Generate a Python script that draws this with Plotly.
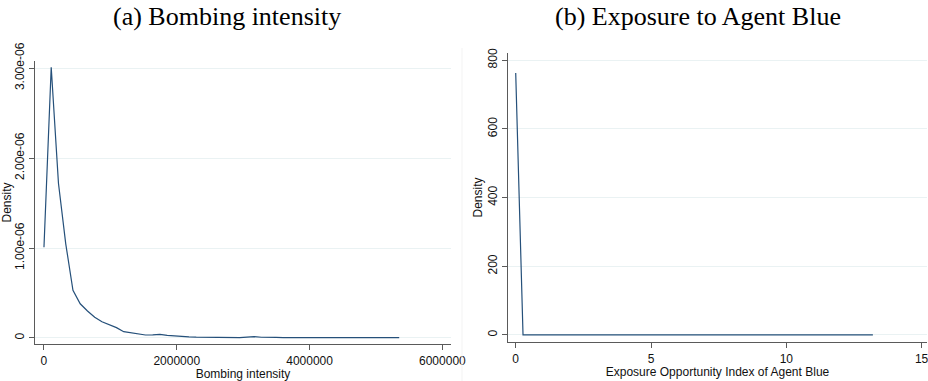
import plotly.graph_objects as go

# ---------------- data ----------------
bomb_x = [0, 109184, 218367, 327551, 436735, 545918, 655102, 764286, 873469, 982653,
          1091837, 1201020, 1310204, 1419388, 1528571, 1637755, 1746939, 1856122, 1965306, 2074490,
          2183673, 2292857, 2402041, 2511224, 2620408, 2729592, 2838776, 2947959, 3057143, 3166327,
          3275510, 3384694, 3493878, 3603061, 3712245, 3821429, 3930612, 4039796, 4148980, 4258163,
          4367347, 4476531, 4585714, 4694898, 4804082, 4913265, 5022449, 5131633, 5240816, 5350000]
bomb_density = [1.01e-06, 3.01e-06, 1.72e-06, 1.05e-06, 0.53e-06, 0.38e-06, 0.30e-06, 0.23e-06, 0.18e-06, 0.145e-06,
                0.115e-06, 0.07e-06, 0.06e-06, 0.05e-06, 0.033e-06, 0.035e-06, 0.04e-06, 0.03e-06, 0.022e-06, 0.016e-06,
                0.012e-06, 0.009e-06, 0.007e-06, 0.005e-06, 0.004e-06, 0.003e-06, 0.002e-06, 0.004e-06, 0.010e-06, 0.014e-06,
                0.008e-06, 0.010e-06, 0.006e-06, 0.005e-06, 0.005e-06, 0.004e-06, 0.004e-06, 0.004e-06, 0.003e-06, 0.003e-06,
                0.004e-06, 0.006e-06, 0.009e-06, 0.006e-06, 0.004e-06, 0.003e-06, 0.003e-06, 0.003e-06, 0.003e-06, 0.003e-06]

blue_x = [0, 0.27, 0.54, 0.81, 1.08, 1.35, 1.62, 1.89, 2.16, 2.42,
          2.69, 2.96, 3.23, 3.50, 3.77, 4.04, 4.31, 4.58, 4.85, 5.12,
          5.39, 5.66, 5.93, 6.20, 6.47, 6.73, 7.00, 7.27, 7.54, 7.81,
          8.08, 8.35, 8.62, 8.89, 9.16, 9.43, 9.70, 9.97, 10.24, 10.51,
          10.78, 11.04, 11.31, 11.58, 11.85, 12.12, 12.39, 12.66, 12.93, 13.20]
blue_density = [763, 0.6, 0.3, 0.2, 0.2, 0.2, 0.2, 0.2, 0.2, 0.2,
                0.2, 0.2, 0.2, 0.2, 0.2, 0.2, 0.2, 0.2, 0.2, 0.2,
                0.2, 0.2, 0.2, 0.2, 0.2, 0.2, 0.2, 0.2, 0.2, 0.2,
                0.2, 0.2, 0.2, 0.2, 0.2, 0.2, 0.2, 0.2, 0.2, 0.2,
                0.2, 0.2, 0.2, 0.2, 0.2, 0.2, 0.2, 0.2, 0.2, 0.2]

bomb_xticks = [0, 2000000, 4000000, 6000000]
bomb_xticklabels = ["0", "2000000", "4000000", "6000000"]
bomb_yticks = [0, 1e-06, 2e-06, 3e-06]
bomb_yticklabels = ["0", "1.00e-06", "2.00e-06", "3.00e-06"]
blue_xticks = [0, 5, 10, 15]
blue_xticklabels = ["0", "5", "10", "15"]
blue_yticks = [0, 200, 400, 600, 800]
blue_yticklabels = ["0", "200", "400", "600", "800"]

titles = ["(a) Bombing intensity", "(b) Exposure to Agent Blue"]
xtitles = ["Bombing intensity", "Exposure Opportunity Index of Agent Blue"]
ytitle = "Density"

# ---------------- figure ----------------
W, H = 928, 381
LINE = "#25507a"
AXC = "#5a5a5a"
GRID = "#eaf2f3"
SANS = "Liberation Sans, Arial, sans-serif"
SERIF = "Liberation Serif, Times New Roman, serif"

fig = go.Figure()
fig.add_trace(go.Scatter(x=bomb_x, y=bomb_density, mode="lines",
                         line=dict(color=LINE, width=1.2), xaxis="x", yaxis="y",
                         showlegend=False, hoverinfo="skip"))
fig.add_trace(go.Scatter(x=blue_x, y=blue_density, mode="lines",
                         line=dict(color=LINE, width=1.2), xaxis="x2", yaxis="y2",
                         showlegend=False, hoverinfo="skip"))

def xaxis(domain, rng, tv, tt, title, anchor):
    return dict(domain=domain, range=rng, tickvals=tv, ticktext=tt, anchor=anchor,
                showline=True, linecolor=AXC, linewidth=1.2, ticks="outside",
                ticklen=5, tickcolor=AXC, showgrid=False, zeroline=False,
                ticklabeloverflow="allow",
                tickfont=dict(family=SANS, size=12, color="#111"),
                title=dict(text=title, font=dict(family=SANS, size=12, color="#111"), standoff=2),
                automargin=False)

def yaxis(domain, rng, tv, tt, anchor):
    return dict(domain=domain, range=rng, tickvals=tv, ticktext=tt, anchor=anchor,
                showline=True, linecolor=AXC, linewidth=1.2, ticks="outside",
                ticklen=5, tickcolor=AXC, showgrid=True, gridcolor=GRID, gridwidth=1,
                zeroline=False, tickangle=-90, ticklabeloverflow="allow",
                tickfont=dict(family=SANS, size=12, color="#111"),
                title=dict(text=ytitle, font=dict(family=SANS, size=12, color="#111"), standoff=0),
                automargin=False)

fig.update_layout(
    width=W, height=H,
    margin=dict(l=0, r=0, t=0, b=0),
    paper_bgcolor="white", plot_bgcolor="white",
    xaxis=xaxis([35 / W, 451 / W], [-135000, 6130000], bomb_xticks, bomb_xticklabels, xtitles[0], "y"),
    yaxis=yaxis([1 - 344 / H, 1 - 61 / H], [-0.067e-06, 3.08e-06], bomb_yticks, bomb_yticklabels, "x"),
    xaxis2=xaxis([508 / W, 927 / W], [-0.285, 15.2], blue_xticks, blue_xticklabels, xtitles[1], "y2"),
    yaxis2=yaxis([1 - 342 / H, 1 - 53 / H], [-20.4, 821], blue_yticks, blue_yticklabels, "x2"),
)

fig.add_annotation(text=titles[0], x=227 / W, y=1 - 16 / H, xref="paper", yref="paper",
                   showarrow=False, xanchor="center", yanchor="middle",
                   font=dict(family=SERIF, size=26, color="#000"))
fig.add_annotation(text=titles[1], x=698 / W, y=1 - 16 / H, xref="paper", yref="paper",
                   showarrow=False, xanchor="center", yanchor="middle",
                   font=dict(family=SERIF, size=26, color="#000"))

# faint panel border between the two graphs
fig.add_shape(type="line", xref="paper", yref="paper", x0=462 / W, x1=462 / W,
              y0=0, y1=1 - 48 / H, line=dict(color="#f3f3f3", width=1))

fig.write_html("out.html", config={"displayModeBar": False},
               post_script="document.body.style.margin='0';document.body.style.overflow='hidden';")
